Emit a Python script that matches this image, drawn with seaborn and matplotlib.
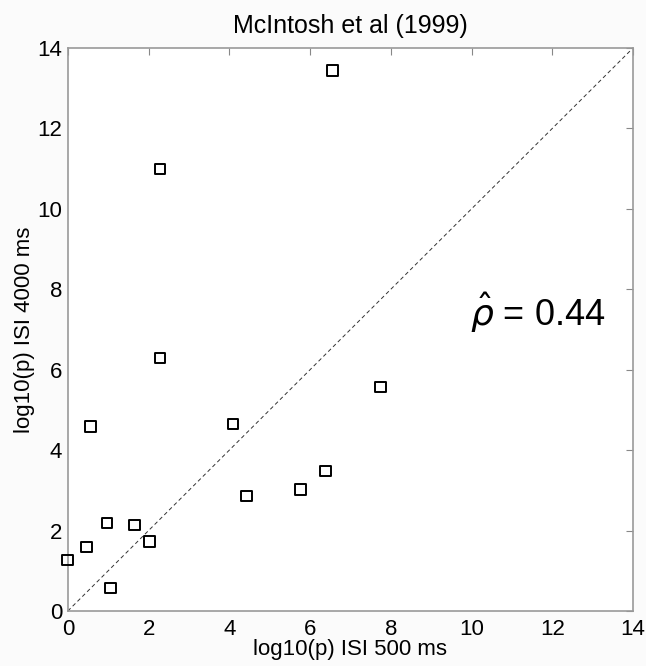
import numpy as np
import pandas as pd
import seaborn as sns
import matplotlib.pyplot as plt

# values (log10 p)
isi_500 = [0.0, 0.47, 0.97, 1.06, 0.57, 1.66, 2.03, 2.28, 2.28, 4.09, 4.42, 5.76, 6.38, 7.74, 6.55]
isi_4000 = [1.27, 1.59, 2.19, 0.57, 4.58, 2.14, 1.72, 6.29, 10.99, 4.65, 2.86, 3.03, 3.48, 5.57, 13.43]
ticks = [0, 2, 4, 6, 8, 10, 12, 14]

df = pd.DataFrame({'x': isi_500, 'y': isi_4000})

sns.set_style("white")
plt.rcParams['font.family'] = ['Liberation Sans', 'DejaVu Sans']
plt.rcParams['mathtext.fontset'] = 'dejavusans'
plt.rcParams['text.color'] = 'black'
plt.rcParams['axes.labelcolor'] = 'black'

fig = plt.figure(figsize=(6.46, 6.66), dpi=100)
fig.patch.set_facecolor('#fbfbfb')
ax = fig.add_axes([0.105, 0.0826, 0.875, 0.8454])

ax.plot([0, 14], [0, 14], ls=(0, (4, 3)), color='#333333', lw=0.7)
sns.scatterplot(data=df, x='x', y='y', marker='s', s=60, facecolors='none',
                edgecolor='black', linewidth=1.4, ax=ax, zorder=3)
for c in ax.collections:
    c.set_clip_on(False)

ax.set_xlim(0, 14)
ax.set_ylim(0, 14)
ax.set_xticks(ticks)
ax.set_yticks(ticks)
ax.tick_params(direction='in', length=5, color='#888888', labelcolor='black',
               labelsize=16, top=True, right=True)
ax.tick_params(axis='x', pad=6)
ax.tick_params(axis='y', pad=4)
for sp in ax.spines.values():
    sp.set_color('#999999')
    sp.set_linewidth(1.2)

ax.set_title('McIntosh et al (1999)', fontsize=18, pad=11, color='black')
ax.set_xlabel('log10(p) ISI 500 ms', fontsize=16, labelpad=-1)
ax.set_ylabel('log10(p) ISI 4000 ms', fontsize=16, labelpad=2)

ax.text(9.95, 7.4, r'$\hat{\rho}$ = 0.44', fontsize=26, va='center', ha='left')

fig.savefig('out.png', dpi=100, facecolor=fig.get_facecolor())
